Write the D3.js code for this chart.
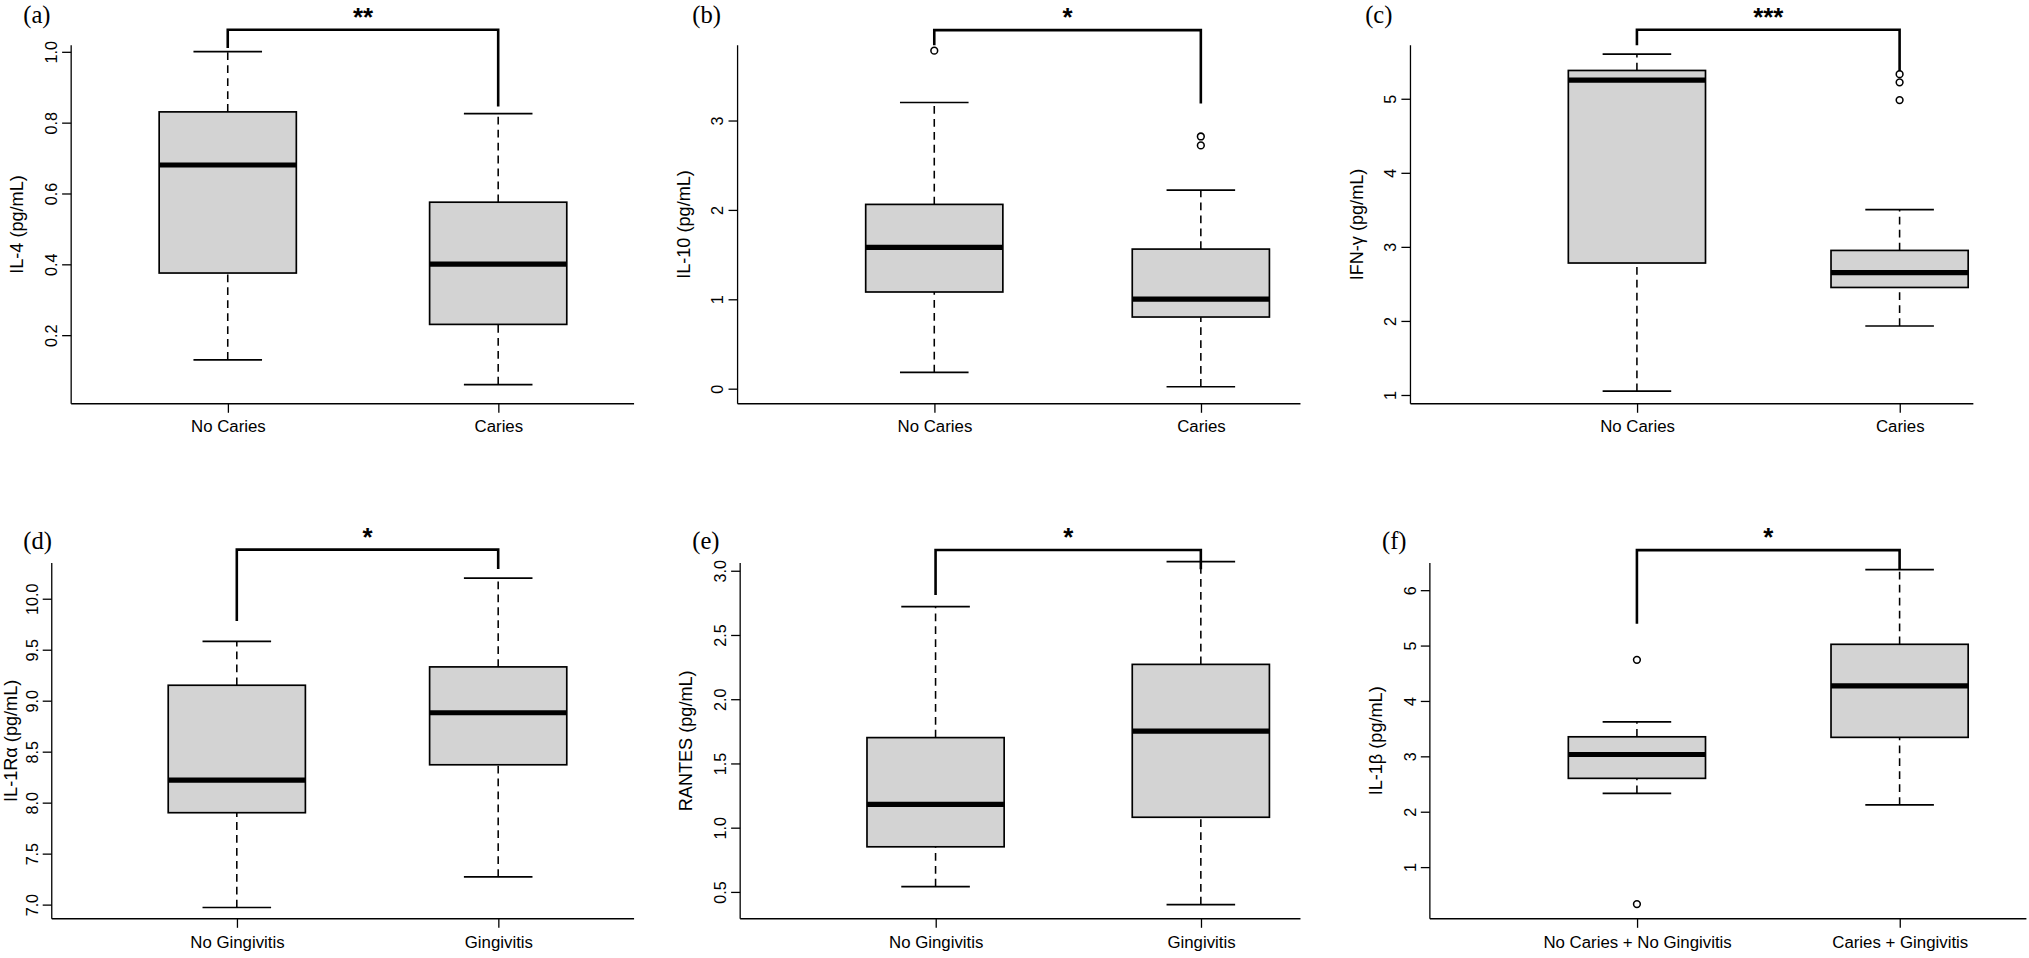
<!DOCTYPE html>
<html><head><meta charset="utf-8">
<script src="https://cdn.jsdelivr.net/npm/d3@7"></script>
<style>body{margin:0;background:#fff}</style></head>
<body><svg id="c" width="2029" height="958"></svg>
<script>
// ---- data ----
const panelLabels = ["(a)","(b)","(c)","(d)","(e)","(f)"];
const yTitles = ["IL-4 (pg/mL)","IL-10 (pg/mL)","IFN-\u03b3 (pg/mL)","IL-1R\u03b1 (pg/mL)","RANTES (pg/mL)","IL-1\u03b2 (pg/mL)"];
const groupsA = ["No Caries","Caries"];
const groupsB = ["No Gingivitis","Gingivitis"];
const groupsC = ["No Caries + No Gingivitis","Caries + Gingivitis"];
// [lowWhisker, Q1, median, Q3, highWhisker]
const statsA = [[0.13,0.375,0.68,0.83,1.0],[0.06,0.23,0.40,0.575,0.825]];
const statsB = [[0.18,1.08,1.58,2.06,3.2],[0.02,0.8,1.0,1.56,2.22]];
const statsC = [[1.05,2.78,5.25,5.38,5.6],[1.93,2.45,2.65,2.95,3.5]];
const statsD = [[6.97,7.9,8.22,9.15,9.58],[7.27,8.37,8.88,9.33,10.2]];
const statsE = [[0.54,0.85,1.18,1.7,2.72],[0.4,1.08,1.75,2.27,3.07]];
const statsF = [[2.33,2.6,3.03,3.35,3.62],[2.12,3.34,4.27,5.02,6.37]];
const outA = [[],[]];
const outB = [[3.78],[2.72,2.82]];
const outC = [[],[4.98,5.22,5.33]];
const outD = [[],[]];
const outE = [[],[]];
const outF = [[4.74,0.33],[]];
const ticksA = [0.2,0.4,0.6,0.8,1.0];
const ticksB = [0,1,2,3];
const ticksC = [1,2,3,4,5];
const ticksD = [7.0,7.5,8.0,8.5,9.0,9.5,10.0];
const ticksE = [0.5,1.0,1.5,2.0,2.5,3.0];
const ticksF = [1,2,3,4,5,6];
const tickFmt = ["0.1f","d","d","0.1f","0.1f","d"];
const domains = [[0.006,1.018],[-0.17,3.84],[0.88,5.72],[6.86,10.35],[0.29,3.06],[0.065,6.49]];
// significance: [stars, bracketTop, leftLegEnd, rightLegEnd]
const sig = [["**",1.062,1.01,0.845],["*",4.01,3.84,3.19],["***",5.93,5.72,5.37],
             ["*",10.48,9.78,10.29],["*",3.16,2.81,3.01],["*",6.72,5.39,6.37]];

const panels = [
 {stats:statsA,out:outA,groups:groupsA,ticks:ticksA},
 {stats:statsB,out:outB,groups:groupsA,ticks:ticksB},
 {stats:statsC,out:outC,groups:groupsA,ticks:ticksC},
 {stats:statsD,out:outD,groups:groupsB,ticks:ticksD},
 {stats:statsE,out:outE,groups:groupsB,ticks:ticksE},
 {stats:statsF,out:outF,groups:groupsC,ticks:ticksF}];
// layout (in 1568-wide design units, scaled)
const S = 2029/1568;
const layout = [
 {x0:55,x1:490,top:35,bot:312,c:[176,385],lx:18,ly:12,tt:37},
 {x0:570,x1:1005,top:35,bot:312,c:[722,928],lx:535,ly:12,tt:37},
 {x0:1090,x1:1525,top:35,bot:312,c:[1265,1468],lx:1055,ly:12,tt:37},
 {x0:40,x1:490,top:435,bot:710,c:[183,385],lx:18,ly:418,tt:27},
 {x0:572,x1:1005,top:435,bot:710,c:[723,928],lx:535,ly:418,tt:37},
 {x0:1105,x1:1566,top:435,bot:710,c:[1265,1468],lx:1068,ly:418,tt:37}];

const svg = d3.select("#c");
const root = svg.append("g").attr("transform",`scale(${S})`);
const bw = 106;

panels.forEach((p,i)=>{
  const L = layout[i];
  const g = root.append("g");
  const y = d3.scaleLinear().domain(domains[i]).range([L.bot,L.top]);
  const x = d3.scalePoint().domain(p.groups).range(L.c);
  const ya = g.append("g").attr("transform",`translate(${L.x0},0)`)
    .call(d3.axisLeft(y).tickValues(p.ticks).tickSize(7).tickFormat(d3.format(tickFmt[i])));
  ya.select(".domain").attr("d",`M0,${L.top}V${L.bot}`).attr("stroke","#000");
  ya.selectAll("text").attr("transform","rotate(-90)").attr("x",0).attr("y",-11)
    .attr("dy","0").style("text-anchor","middle").attr("font-size",12.5)
    .attr("font-family","Liberation Sans, Arial, sans-serif").attr("fill","#000");
  const xa = g.append("g").attr("transform",`translate(0,${L.bot})`)
    .call(d3.axisBottom(x).tickSize(7).tickPadding(6));
  xa.select(".domain").attr("d",`M${L.x0},0H${L.x1}`).attr("stroke","#000");
  xa.selectAll("text").attr("font-size",13).attr("fill","#000")
    .attr("font-family","Liberation Sans Narrow, Arial Narrow, Liberation Sans, sans-serif");
  g.append("text").attr("transform",`translate(${L.x0-L.tt},${(L.top+L.bot)/2}) rotate(-90)`)
    .attr("text-anchor","middle").attr("font-size",14)
    .attr("font-family","Liberation Sans, Arial, sans-serif").text(yTitles[i]);
  g.append("text").attr("x",L.lx).attr("y",L.ly+6).attr("font-size",19)
    .attr("font-family","Liberation Serif, Times New Roman, serif").text(panelLabels[i]);
  p.stats.forEach((s,j)=>{
    const cx = x(p.groups[j]);
    g.append("line").attr("x1",cx).attr("x2",cx).attr("y1",y(s[0])).attr("y2",y(s[1]))
      .attr("stroke","#000").attr("stroke-width",1.2).attr("stroke-dasharray","6,4");
    g.append("line").attr("x1",cx).attr("x2",cx).attr("y1",y(s[3])).attr("y2",y(s[4]))
      .attr("stroke","#000").attr("stroke-width",1.2).attr("stroke-dasharray","6,4");
    [s[0],s[4]].forEach(v=>g.append("line").attr("x1",cx-bw/4).attr("x2",cx+bw/4)
      .attr("y1",y(v)).attr("y2",y(v)).attr("stroke","#000").attr("stroke-width",1.3));
    g.append("rect").attr("x",cx-bw/2).attr("width",bw).attr("y",y(s[3]))
      .attr("height",y(s[1])-y(s[3])).attr("fill","#d3d3d3").attr("stroke","#000").attr("stroke-width",1.3);
    g.append("line").attr("x1",cx-bw/2).attr("x2",cx+bw/2).attr("y1",y(s[2])).attr("y2",y(s[2]))
      .attr("stroke","#000").attr("stroke-width",4);
    p.out[j].forEach(v=>g.append("circle").attr("cx",cx).attr("cy",y(v)).attr("r",2.6)
      .attr("fill","none").attr("stroke","#000").attr("stroke-width",1.2));
  });
  const [st,top,le,re] = sig[i];
  const c0 = x(p.groups[0]), c1 = x(p.groups[1]);
  g.append("path").attr("d",`M${c0},${y(le)}V${y(top)}H${c1}V${y(re)}`)
    .attr("fill","none").attr("stroke","#000").attr("stroke-width",2);
  g.append("text").attr("x",(c0+c1)/2).attr("y",y(top)-3).attr("text-anchor","middle")
    .attr("font-size",20).attr("font-weight","bold")
    .attr("font-family","Liberation Sans, Arial, sans-serif").text(st);
});
</script></body></html>
